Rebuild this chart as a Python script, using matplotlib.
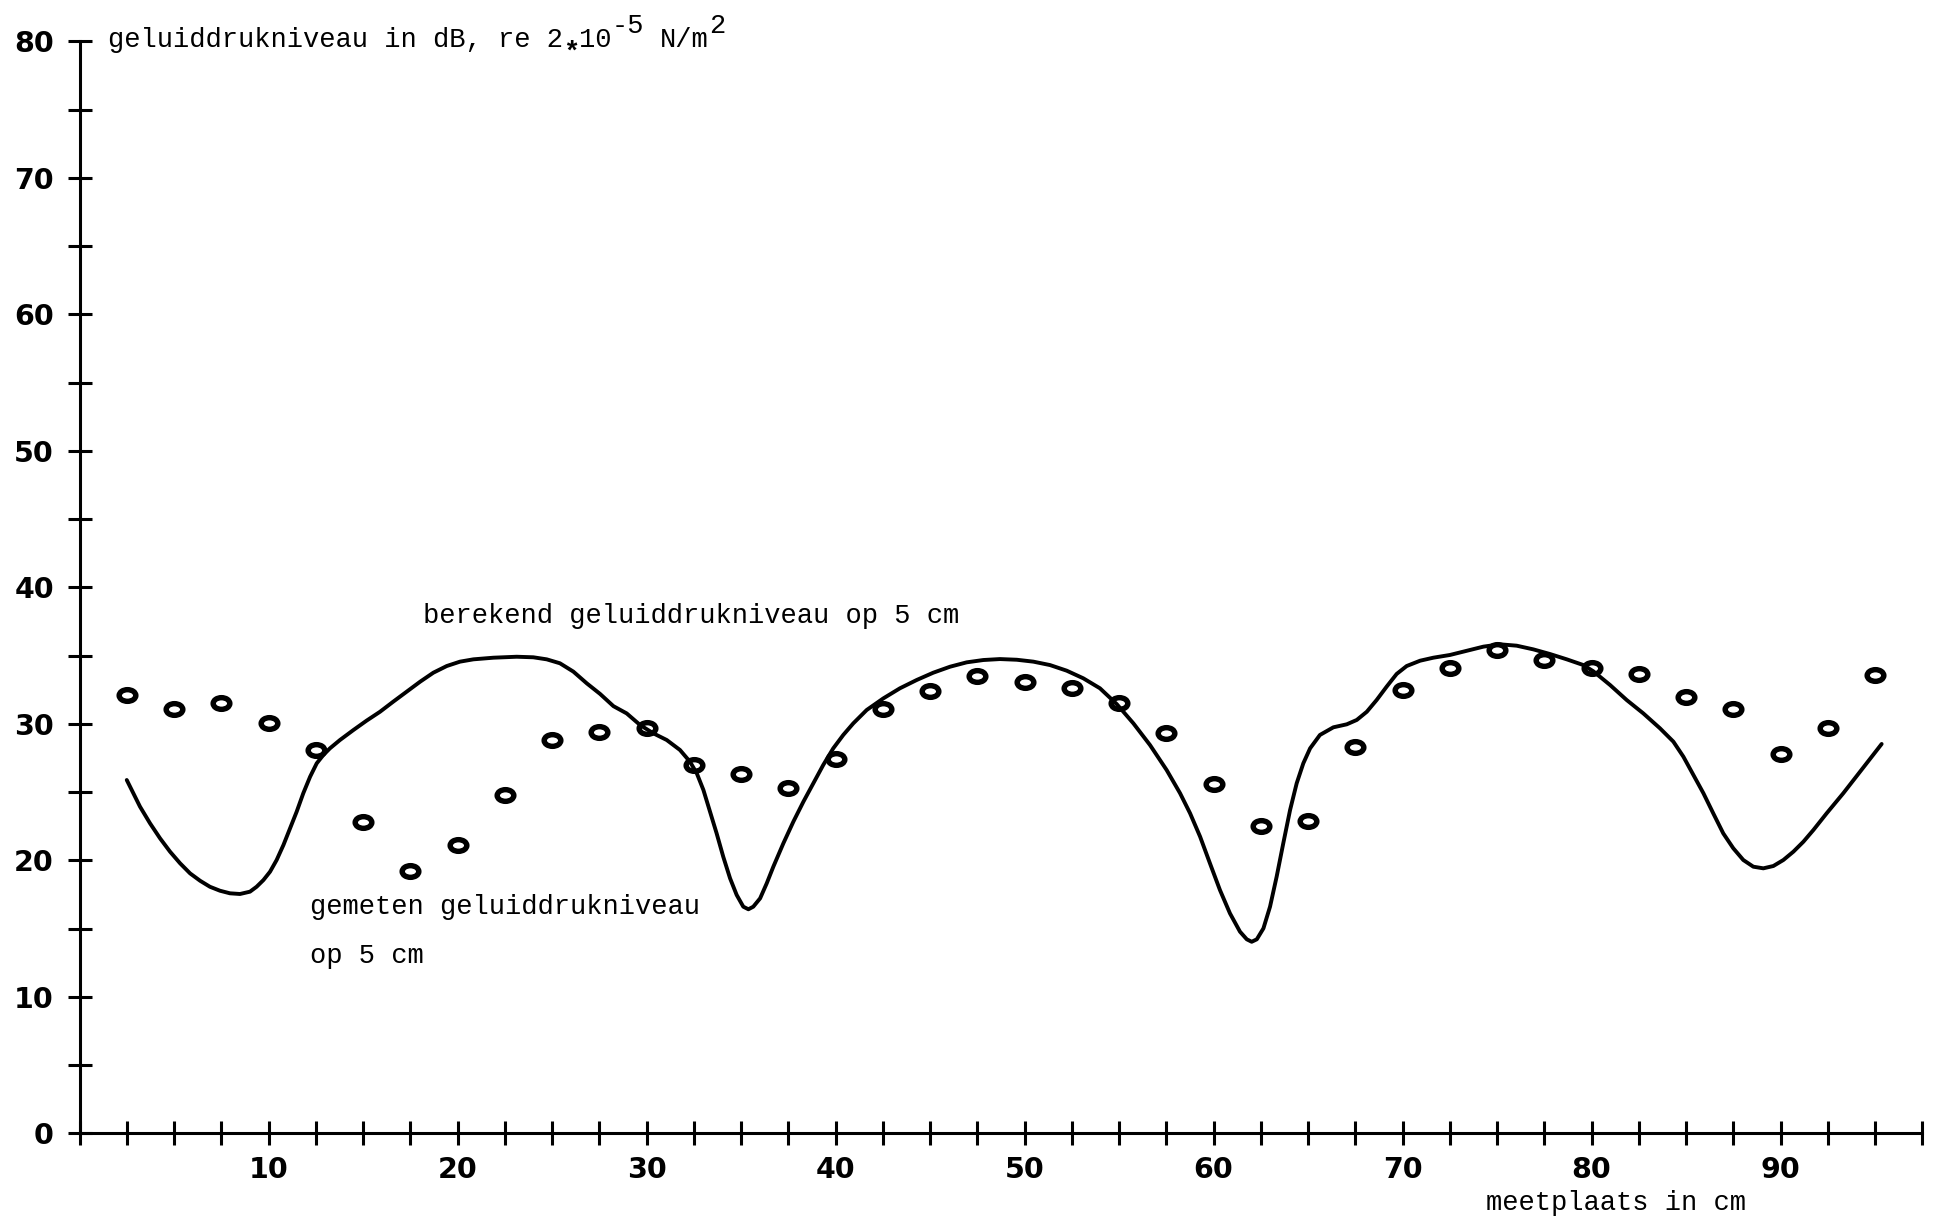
import numpy as np
import matplotlib.pyplot as plt
from matplotlib.path import Path
from matplotlib.transforms import Affine2D

# gemeten geluiddrukniveau (dB) per meetplaats (cm)
meetplaats = [2.5, 5.0, 7.5, 10.0, 12.5, 15.0, 17.5, 20.0, 22.5, 25.0,
              27.5, 30.0, 32.5, 35.0, 37.5, 40.0, 42.5, 45.0, 47.5, 50.0,
              52.5, 55.0, 57.5, 60.0, 62.5, 65.0, 67.5, 70.0, 72.5, 75.0,
              77.5, 80.0, 82.5, 85.0, 87.5, 90.0, 92.5, 95.0]
gemeten = [32.1, 31.1, 31.5, 30.1, 28.1, 22.8, 19.2, 21.1, 24.8, 28.8,
           29.4, 29.7, 27.0, 26.3, 25.3, 27.4, 31.1, 32.4, 33.5, 33.1,
           32.6, 31.5, 29.3, 25.6, 22.5, 22.9, 28.3, 32.5, 34.1, 35.4,
           34.7, 34.1, 33.65, 32.0, 31.1, 27.8, 29.7, 33.6]

# berekend geluiddrukniveau (doorlopende kromme)
ber_x = [2.50, 2.85, 3.20, 3.73, 4.26, 4.79, 5.32, 5.85, 6.38, 6.90,
         7.43, 7.96, 8.49, 9.02, 9.37, 9.73, 10.08, 10.43, 10.79, 11.14,
         11.49, 11.84, 12.20, 12.55, 12.90, 13.25, 13.78, 14.49, 15.19, 15.90,
         16.60, 17.31, 18.02, 18.72, 19.43, 20.13, 20.84, 21.90, 23.13, 24.01,
         24.72, 25.42, 26.13, 26.84, 27.54, 28.25, 28.95, 29.66, 30.36, 31.07,
         31.77, 32.30, 32.66, 33.01, 33.36, 33.71, 34.06, 34.42, 34.77, 35.12,
         35.39, 35.65, 36.01, 36.36, 36.71, 37.24, 37.77, 38.30, 38.83, 39.35,
         39.88, 40.41, 40.94, 41.65, 42.53, 43.41, 44.30, 45.17, 46.06, 46.94,
         47.82, 48.70, 49.59, 50.47, 51.35, 52.23, 53.11, 53.99, 54.88, 55.76,
         56.64, 57.52, 58.23, 58.76, 59.29, 59.81, 60.34, 60.87, 61.40, 61.76,
         62.02, 62.29, 62.64, 62.99, 63.34, 63.69, 64.05, 64.40, 64.75, 65.11,
         65.63, 66.34, 67.05, 67.58, 68.11, 68.63, 69.16, 69.69, 70.22, 70.93,
         71.63, 72.51, 73.40, 74.28, 75.16, 76.04, 76.92, 77.80, 78.69, 79.57,
         80.10, 80.98, 81.86, 82.74, 83.62, 84.33, 84.86, 85.39, 85.92, 86.44,
         86.97, 87.50, 88.03, 88.56, 89.09, 89.62, 90.15, 90.68, 91.21, 91.74,
         92.44, 93.32, 94.21, 95.35]
ber_y = [25.89, 24.91, 23.94, 22.72, 21.62, 20.64, 19.79, 19.05, 18.51, 18.07,
         17.78, 17.59, 17.54, 17.71, 18.07, 18.56, 19.17, 20.03, 21.13, 22.35,
         23.57, 24.92, 26.13, 27.11, 27.72, 28.21, 28.82, 29.55, 30.24, 30.89,
         31.63, 32.36, 33.09, 33.75, 34.24, 34.56, 34.73, 34.85, 34.92, 34.88,
         34.73, 34.44, 33.83, 32.97, 32.20, 31.30, 30.77, 29.92, 29.31, 28.82,
         28.09, 27.23, 26.38, 25.16, 23.57, 21.98, 20.27, 18.69, 17.47, 16.61,
         16.42, 16.61, 17.22, 18.32, 19.54, 21.25, 22.84, 24.30, 25.65, 26.99,
         28.21, 29.19, 30.04, 31.02, 31.87, 32.61, 33.22, 33.75, 34.19, 34.51,
         34.68, 34.75, 34.70, 34.56, 34.31, 33.90, 33.34, 32.61, 31.45, 30.04,
         28.45, 26.62, 24.92, 23.45, 21.74, 19.79, 17.83, 16.12, 14.78, 14.22,
         14.04, 14.22, 15.02, 16.61, 18.81, 21.25, 23.69, 25.65, 27.11, 28.21,
         29.19, 29.75, 29.97, 30.29, 30.89, 31.75, 32.73, 33.66, 34.24, 34.63,
         34.85, 35.05, 35.36, 35.66, 35.83, 35.73, 35.46, 35.12, 34.73, 34.31,
         33.85, 32.85, 31.75, 30.77, 29.68, 28.70, 27.60, 26.26, 24.92, 23.45,
         21.98, 20.89, 20.03, 19.54, 19.42, 19.59, 20.03, 20.64, 21.37, 22.23,
         23.45, 24.92, 26.50, 28.53]

x_ticks = np.arange(0, 97.6, 2.5)
y_ticks = np.arange(0, 81, 5)

mono = 'Liberation Mono'
fs = 19.5
cw = 0.6 * fs  # advance of one typewriter column, in points

fig = plt.figure(figsize=(19.44, 12.24), dpi=100)
ax = fig.add_axes([0.0409, 0.0740, 0.9489, 0.8922])
ax.set_xlim(0, 97.6)
ax.set_ylim(0, 80)

for side in ['top', 'right']:
    ax.spines[side].set_visible(False)
ax.spines['left'].set_linewidth(2.2)
ax.spines['bottom'].set_linewidth(2.2)
ax.spines['left'].set_bounds(0, 80)
ax.spines['bottom'].set_bounds(0, 97.5)

ax.set_xticks(x_ticks)
ax.set_xticklabels(['%d' % t if t % 10 == 0 and t > 0 else '' for t in x_ticks])
ax.set_yticks(y_ticks)
ax.set_yticklabels(['%d' % t if t % 10 == 0 else '' for t in y_ticks])
ax.tick_params(direction='inout', length=17, width=2.2, colors='black',
               labelsize=20.5)
ax.tick_params(axis='x', pad=8)
ax.tick_params(axis='y', pad=10)
for lab in ax.get_xticklabels() + ax.get_yticklabels():
    lab.set_fontfamily('DejaVu Sans')
    lab.set_fontweight('heavy')

# oval hollow markers as typed "o"
oval = Path.unit_circle().transformed(Affine2D().scale(1.0, 0.7))

ax.plot(ber_x, ber_y, color='black', lw=2.8, solid_capstyle='round',
        solid_joinstyle='round', clip_on=False)
ax.plot(meetplaats, gemeten, linestyle='none', marker=oval, ms=12,
        mfc='none', mec='black', mew=3.9, clip_on=False)

# y-as titel, typemachine-stijl: elk stuk op zijn eigen kolom,
# exponenten een halve regel omhoog, het sterretje omlaag
x0, y0 = 1.5, 79.6
title_parts = [
    (0, 0, 'geluiddrukniveau in dB, re 2', 'normal'),
    (28, -9, '*', 'bold'),
    (29, 0, '10', 'normal'),
    (31, 10, '-5', 'normal'),
    (34, 0, 'N/m', 'normal'),
    (37, 10, '2', 'normal'),
]
for col, dy, txt, weight in title_parts:
    ax.annotate(txt, (x0, y0), xytext=(col * cw, dy), textcoords='offset points',
                family=mono, fontsize=fs, fontweight=weight, va='baseline',
                ha='left', annotation_clip=False)

ax.text(18.2, 37.4, 'berekend geluiddrukniveau op 5 cm', family=mono,
        fontsize=fs, va='baseline', ha='left')
ax.text(12.2, 16.1, 'gemeten geluiddrukniveau', family=mono,
        fontsize=fs, va='baseline', ha='left')
ax.text(12.2, 12.5, 'op 5 cm', family=mono,
        fontsize=fs, va='baseline', ha='left')
ax.text(74.4, -5.6, 'meetplaats in cm', family=mono,
        fontsize=fs, va='baseline', ha='left')

fig.savefig('out.png', dpi=100, facecolor='white')
